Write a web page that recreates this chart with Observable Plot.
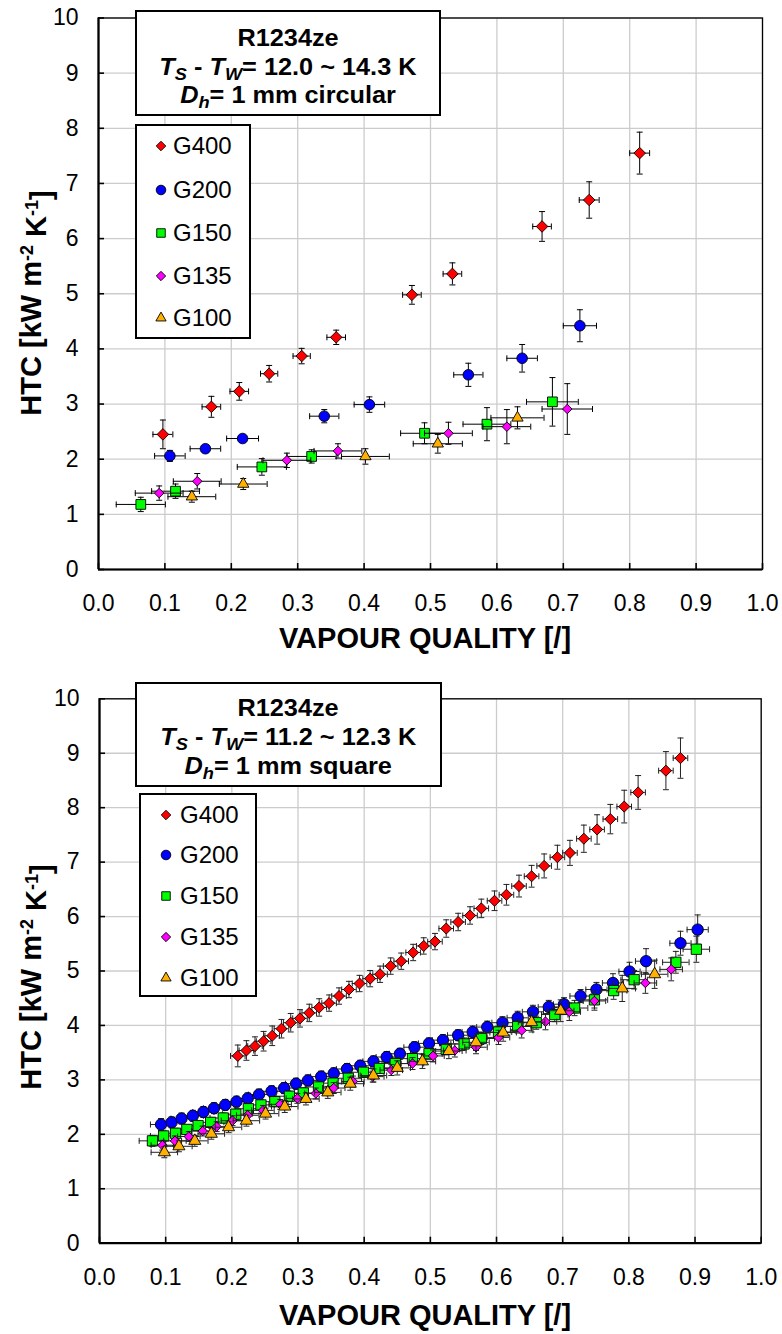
<!DOCTYPE html>
<html><head><meta charset="utf-8">
<script src="https://cdn.jsdelivr.net/npm/d3@7"></script>
<script src="https://cdn.jsdelivr.net/npm/@observablehq/plot@0.6"></script>
<style>
html,body{margin:0;padding:0;background:#fff;overflow:hidden;}
#wrap{position:relative;width:782px;height:1334px;font-family:"Liberation Sans",Arial,Helvetica,sans-serif;color:#000;}
.panel{position:absolute;left:0;}
.box{position:absolute;background:#fff;border:2px solid #000;box-sizing:border-box;}
.ln{position:absolute;left:0;width:100%;text-align:center;font-weight:bold;font-size:23px;height:24px;line-height:24px;white-space:nowrap;}
.ln span{display:inline-block;height:24px;line-height:24px;transform:scaleX(1.1);transform-origin:center;}
.ln sub{font-size:72%;vertical-align:-0.3em;line-height:0;}
.it{position:absolute;height:30px;line-height:30px;font-size:24px;white-space:nowrap;}
.it svg{position:absolute;top:7px;}
</style></head><body>
<div id="wrap"></div>
<script>
// ---------- shared ----------
const seriesNames = ["G400", "G200", "G150", "G135", "G100"];
const seriesColors = ["#ff0000", "#0000ff", "#00ff00", "#ff00ff", "#ffb000"];
const xTicks = [0, 0.1, 0.2, 0.3, 0.4, 0.5, 0.6, 0.7, 0.8, 0.9, 1.0];
const yTicks = [0, 1, 2, 3, 4, 5, 6, 7, 8, 9, 10];
const xTitle = "VAPOUR QUALITY [/]";

// ---------- top panel: 1 mm circular ----------
const c400x  = [0.097, 0.170, 0.212, 0.257, 0.306, 0.358, 0.472, 0.533, 0.668, 0.739, 0.815];
const c400y  = [2.45, 2.95, 3.23, 3.55, 3.87, 4.21, 4.98, 5.36, 6.22, 6.70, 7.55];
const c400ey = [0.26, 0.19, 0.16, 0.15, 0.14, 0.13, 0.17, 0.20, 0.27, 0.33, 0.38];
const c400ex = [0.015, 0.014, 0.014, 0.013, 0.013, 0.014, 0.014, 0.014, 0.014, 0.015, 0.015];

const c200x  = [0.1075, 0.161, 0.217, 0.340, 0.408, 0.557, 0.638, 0.725];
const c200y  = [2.06, 2.19, 2.375, 2.78, 2.99, 3.53, 3.83, 4.42];
const c200ey = [0.10, 0.06, 0.05, 0.12, 0.14, 0.21, 0.25, 0.29];
const c200ex = [0.023, 0.023, 0.024, 0.022, 0.023, 0.022, 0.023, 0.025];

const c150x  = [0.0637, 0.116, 0.246, 0.321, 0.491, 0.585, 0.6836];
const c150y  = [1.18, 1.42, 1.86, 2.05, 2.47, 2.635, 3.04];
const c150ey = [0.13, 0.13, 0.15, 0.12, 0.19, 0.30, 0.44];
const c150ex = [0.037, 0.036, 0.037, 0.037, 0.036, 0.036, 0.039];

const c135x  = [0.0914, 0.1487, 0.2837, 0.3606, 0.527, 0.615, 0.706];
const c135y  = [1.385, 1.60, 1.98, 2.15, 2.47, 2.59, 2.91];
const c135ey = [0.13, 0.14, 0.13, 0.13, 0.20, 0.31, 0.46];
const c135ex = [0.036, 0.036, 0.036, 0.036, 0.036, 0.036, 0.038];

const c100x  = [0.1406, 0.218, 0.402, 0.511, 0.631];
const c100y  = [1.32, 1.55, 2.05, 2.28, 2.75];
const c100ey = [0.10, 0.10, 0.14, 0.17, 0.20];
const c100ex = [0.036, 0.036, 0.036, 0.037, 0.040];

// ---------- bottom panel: 1 mm square ----------
const s400x  = [0.209, 0.222, 0.235, 0.248, 0.261, 0.275, 0.289, 0.303, 0.317, 0.332,
                0.347, 0.362, 0.377, 0.393, 0.409, 0.424, 0.440, 0.456, 0.474, 0.490,
                0.507, 0.524, 0.542, 0.560, 0.577, 0.597, 0.615, 0.634, 0.653, 0.672,
                0.692, 0.711, 0.732, 0.752, 0.772, 0.793, 0.814, 0.856, 0.878];
const s400y  = [3.44, 3.54, 3.62, 3.71, 3.81, 3.94, 4.05, 4.13, 4.23, 4.33,
                4.41, 4.54, 4.66, 4.77, 4.86, 4.94, 5.09, 5.18, 5.34, 5.46,
                5.54, 5.78, 5.90, 6.02, 6.15, 6.29, 6.40, 6.56, 6.74, 6.93,
                7.09, 7.17, 7.43, 7.60, 7.79, 8.02, 8.28, 8.68, 8.91];
const s400ey = [0.20, 0.18, 0.17, 0.18, 0.18, 0.17, 0.17, 0.16, 0.16, 0.16,
                0.15, 0.15, 0.15, 0.15, 0.15, 0.15, 0.15, 0.15, 0.15, 0.15,
                0.15, 0.16, 0.16, 0.16, 0.17, 0.18, 0.19, 0.20, 0.20, 0.22,
                0.22, 0.23, 0.25, 0.27, 0.27, 0.30, 0.31, 0.35, 0.37];
const s400ex = 0.011;

const s200x  = [0.093, 0.109, 0.124, 0.141, 0.157, 0.173, 0.190, 0.207, 0.224, 0.241,
                0.260, 0.279, 0.297, 0.315, 0.335, 0.354, 0.374, 0.394, 0.414, 0.434,
                0.454, 0.476, 0.498, 0.519, 0.542, 0.564, 0.586, 0.609, 0.632, 0.655,
                0.679, 0.702, 0.727, 0.751, 0.776, 0.801, 0.826, 0.878, 0.904];
const s200y  = [2.18, 2.22, 2.29, 2.34, 2.41, 2.48, 2.54, 2.60, 2.66, 2.73,
                2.79, 2.85, 2.93, 2.99, 3.06, 3.12, 3.20, 3.26, 3.34, 3.42,
                3.48, 3.60, 3.67, 3.73, 3.82, 3.88, 3.97, 4.05, 4.14, 4.25,
                4.34, 4.39, 4.54, 4.66, 4.78, 4.99, 5.18, 5.51, 5.76];
const s200ey = [0.11, 0.10, 0.10, 0.10, 0.10, 0.10, 0.10, 0.10, 0.10, 0.10,
                0.10, 0.10, 0.10, 0.10, 0.10, 0.10, 0.10, 0.10, 0.10, 0.10,
                0.10, 0.10, 0.10, 0.10, 0.10, 0.11, 0.11, 0.11, 0.12, 0.12,
                0.12, 0.12, 0.12, 0.13, 0.17, 0.17, 0.23, 0.22, 0.27];
const s200ex = 0.016;

const s150x  = [0.080, 0.097, 0.115, 0.132, 0.149, 0.168, 0.187, 0.206, 0.225, 0.244,
                0.265, 0.287, 0.308, 0.331, 0.353, 0.376, 0.399, 0.423, 0.447, 0.473,
                0.498, 0.524, 0.551, 0.577, 0.603, 0.632, 0.660, 0.688, 0.718, 0.748,
                0.777, 0.808, 0.871, 0.902];
const s150y  = [1.88, 1.97, 2.02, 2.09, 2.16, 2.22, 2.30, 2.37, 2.47, 2.54,
                2.60, 2.70, 2.76, 2.87, 2.94, 3.03, 3.14, 3.21, 3.30, 3.39,
                3.48, 3.56, 3.66, 3.76, 3.88, 3.98, 4.05, 4.20, 4.32, 4.47,
                4.64, 4.84, 5.16, 5.40];
const s150ey = [0.10, 0.09, 0.09, 0.09, 0.09, 0.09, 0.09, 0.09, 0.09, 0.09,
                0.09, 0.09, 0.09, 0.09, 0.09, 0.09, 0.09, 0.09, 0.10, 0.10,
                0.10, 0.10, 0.11, 0.11, 0.11, 0.12, 0.12, 0.13, 0.14, 0.15,
                0.16, 0.17, 0.20, 0.24];
const s150ex = 0.020;

const s135x  = [0.095, 0.114, 0.135, 0.156, 0.177, 0.201, 0.224, 0.247, 0.273, 0.299,
                0.327, 0.354, 0.383, 0.413, 0.441, 0.473, 0.504, 0.537, 0.569, 0.603,
                0.638, 0.674, 0.710, 0.748, 0.825, 0.864];
const s135y  = [1.80, 1.88, 1.96, 2.06, 2.14, 2.25, 2.35, 2.44, 2.55, 2.66,
                2.75, 2.85, 2.97, 3.06, 3.18, 3.30, 3.44, 3.54, 3.60, 3.78,
                3.91, 4.07, 4.25, 4.45, 4.78, 5.03];
const s135ey = [0.09, 0.09, 0.09, 0.09, 0.09, 0.09, 0.09, 0.09, 0.09, 0.09,
                0.10, 0.10, 0.10, 0.10, 0.10, 0.11, 0.11, 0.12, 0.12, 0.13,
                0.14, 0.15, 0.16, 0.17, 0.19, 0.21];
const s135ex = 0.017;

const s100x  = [0.098, 0.120, 0.144, 0.169, 0.195, 0.222, 0.251, 0.280, 0.312, 0.345,
                0.379, 0.414, 0.450, 0.488, 0.528, 0.569, 0.610, 0.653, 0.697, 0.790,
                0.839];
const s100y  = [1.67, 1.78, 1.88, 2.01, 2.13, 2.25, 2.38, 2.51, 2.65, 2.77,
                2.93, 3.08, 3.22, 3.34, 3.53, 3.69, 3.87, 4.06, 4.27, 4.68,
                4.94];
const s100ey = [0.10, 0.10, 0.10, 0.10, 0.10, 0.10, 0.10, 0.11, 0.11, 0.11,
                0.12, 0.12, 0.13, 0.13, 0.14, 0.15, 0.16, 0.18, 0.20, 0.24,
                0.26];
const s100ex = 0.020;

// ---------- helpers ----------
const FONT = "'Liberation Sans', Arial, Helvetica, sans-serif";
const GRID = "#cccccc";
const hcap = {draw(ctx) { ctx.moveTo(-3, 0); ctx.lineTo(3, 0); }};
const vcap = {draw(ctx) { ctx.moveTo(0, -3); ctx.lineTo(0, 3); }};
const symbolNames = ["diamond2", "circle", "square", "diamond2", "triangle"];
const d3Symbols = [d3.symbolDiamond2, d3.symbolCircle, d3.symbolSquare, d3.symbolDiamond2, d3.symbolTriangle];

function rows(xs, ys, exs, eys) {
  return xs.map((x, i) => ({x, y: ys[i], ex: Array.isArray(exs) ? exs[i] : exs, ey: eys[i]}));
}

function seriesMarks(data, k, r, bar) {
  const cap = {stroke: bar, fill: "none", strokeWidth: 1, r: 3};
  return [
    Plot.ruleX(data, {x: "x", y1: d => d.y - d.ey, y2: d => d.y + d.ey, stroke: bar, strokeWidth: 1}),
    Plot.ruleY(data, {y: "y", x1: d => d.x - d.ex, x2: d => d.x + d.ex, stroke: bar, strokeWidth: 1}),
    Plot.dot(data, {x: "x", y: d => d.y + d.ey, symbol: hcap, ...cap}),
    Plot.dot(data, {x: "x", y: d => d.y - d.ey, symbol: hcap, ...cap}),
    Plot.dot(data, {x: d => d.x - d.ex, y: "y", symbol: vcap, ...cap}),
    Plot.dot(data, {x: d => d.x + d.ex, y: "y", symbol: vcap, ...cap}),
    Plot.dot(data, {x: "x", y: "y", symbol: symbolNames[k], r, fill: seriesColors[k], stroke: "#000", strokeWidth: 0.9})
  ];
}

function panel({height, mt, mb, ml, mr, series, radii, bar, yTitleY, xTitleY}) {
  const svg = Plot.plot({
    width: 782, height,
    marginTop: mt, marginBottom: mb, marginLeft: ml, marginRight: mr,
    style: {fontFamily: FONT, fontSize: "23px", color: "#000", background: "#fff", overflow: "visible"},
    x: {domain: [0, 1]},
    y: {domain: [0, 10]},
    marks: [
      Plot.gridX(xTicks, {stroke: GRID, strokeOpacity: 1, strokeWidth: 1.3}),
      Plot.gridY(yTicks, {stroke: GRID, strokeOpacity: 1, strokeWidth: 1.3}),
      Plot.frame({stroke: "#000", strokeWidth: 1.3}),
      Plot.axisX(xTicks, {tickSize: -6, tickFormat: () => "", strokeWidth: 1.6, label: null}),
      Plot.axisY(yTicks, {tickSize: -6, tickFormat: () => "", strokeWidth: 1.6, label: null}),
      Plot.axisX(xTicks, {tickSize: 0, tickPadding: 25, tickFormat: d3.format(".1f"), label: null}),
      Plot.axisY(yTicks, {tickSize: 0, tickPadding: 20, tickFormat: d => String(d), label: null}),
      Plot.ruleX([0], {stroke: "#000", strokeWidth: 2.2}),
      Plot.ruleY([0], {stroke: "#000", strokeWidth: 2.2}),
      ...series.flatMap((data, k) => seriesMarks(data, k, radii[k], bar))
    ]
  });
  const s = d3.select(svg);
  s.append("text")
    .attr("x", 425).attr("y", xTitleY)
    .attr("text-anchor", "middle")
    .style("font-family", FONT).style("font-weight", "bold").style("font-size", "29px")
    .text(xTitle);
  const yt = s.append("text")
    .attr("transform", `translate(41,${yTitleY}) rotate(-90)`)
    .attr("text-anchor", "middle")
    .style("font-family", FONT).style("font-weight", "bold").style("font-size", "29px");
  yt.append("tspan").text("HTC [kW m");
  yt.append("tspan").attr("dy", "-0.45em").style("font-size", "18px").text("-2");
  yt.append("tspan").attr("dy", "0.45em").text(" K");
  yt.append("tspan").attr("dy", "-0.45em").style("font-size", "18px").text("-1");
  yt.append("tspan").attr("dy", "0.45em").text("]");
  return svg;
}

const wrap = document.getElementById("wrap");

function addPanel(svg, top) {
  const d = document.createElement("div");
  d.className = "panel";
  d.style.top = top + "px";
  d.appendChild(svg);
  wrap.appendChild(d);
}

function addAnnotation(left, top, w, h, lines, centers) {
  const b = document.createElement("div");
  b.className = "box";
  Object.assign(b.style, {left: left + "px", top: top + "px", width: w + "px", height: h + "px"});
  lines.forEach((html, i) => {
    const l = document.createElement("div");
    l.className = "ln";
    l.style.top = (centers[i] - 12 - 2) + "px";
    l.innerHTML = `<span>${html}</span>`;
    b.appendChild(l);
  });
  wrap.appendChild(b);
}

function addLegend(left, top, w, h, centers, symX, textX, radii) {
  const b = document.createElement("div");
  b.className = "box";
  Object.assign(b.style, {left: left + "px", top: top + "px", width: w + "px", height: h + "px"});
  seriesNames.forEach((name, k) => {
    const it = document.createElement("div");
    it.className = "it";
    it.style.top = (centers[k] - 15 - 2) + "px";
    it.style.left = "0px";
    const path = d3.symbol(d3Symbols[k], Math.PI * radii[k] * radii[k])();
    it.innerHTML = `<svg width="16" height="16" style="left:${symX - 8 - 2}px" viewBox="-8 -8 16 16"><path d="${path}" fill="${seriesColors[k]}" stroke="#000" stroke-width="0.9"/></svg><span style="position:absolute;left:${textX - 2}px">${name}</span>`;
    b.appendChild(it);
  });
  wrap.appendChild(b);
}

// ---------- top ----------
const topSeries = [
  rows(c400x, c400y, c400ex, c400ey),
  rows(c200x, c200y, c200ex, c200ey),
  rows(c150x, c150y, c150ex, c150ey),
  rows(c135x, c135y, c135ex, c135ey),
  rows(c100x, c100y, c100ex, c100ey)
];
addPanel(panel({
  height: 660, mt: 17.5, mb: 91, ml: 98, mr: 20,
  series: topSeries, radii: [5.2, 5.3, 5.5, 4.3, 4.2], bar: "#000",
  yTitleY: 303, xTitleY: 648
}), 0);

// ---------- bottom ----------
const botSeries = [
  rows(s400x, s400y, s400ex, s400ey),
  rows(s200x, s200y, s200ex, s200ey),
  rows(s150x, s150y, s150ex, s150ey),
  rows(s135x, s135y, s135ex, s135ey),
  rows(s100x, s100y, s100ex, s100ey)
];
addPanel(panel({
  height: 674, mt: 38.3, mb: 91.3, ml: 99, mr: 21.3,
  series: botSeries, radii: [5.0, 5.7, 5.8, 4.3, 4.5], bar: "#222",
  yTitleY: 317, xTitleY: 665
}), 660);

// ---------- boxes ----------
addAnnotation(135, 10, 306, 106, [
  "R1234ze",
  "<i>T</i><sub><i>S</i></sub> - <i>T</i><sub><i>W</i></sub>= 12.0 ~ 14.3 K",
  "<i>D</i><sub><i>h</i></sub>= 1 mm circular"
], [28, 57, 85]);
addLegend(135, 124, 116, 215, [22, 66, 109, 152, 194], 26, 38, [4.3, 4.8, 4.8, 4.2, 3.8]);

addAnnotation(135, 682, 307, 105, [
  "R1234ze",
  "<i>T</i><sub><i>S</i></sub> - <i>T</i><sub><i>W</i></sub>= 11.2 ~ 12.3 K",
  "<i>D</i><sub><i>h</i></sub>= 1 mm square"
], [26, 55, 84]);
addLegend(139, 793, 118, 204, [22, 62, 103, 144, 185], 27, 41, [4.3, 4.8, 4.8, 4.2, 3.8]);
</script>
</body></html>
